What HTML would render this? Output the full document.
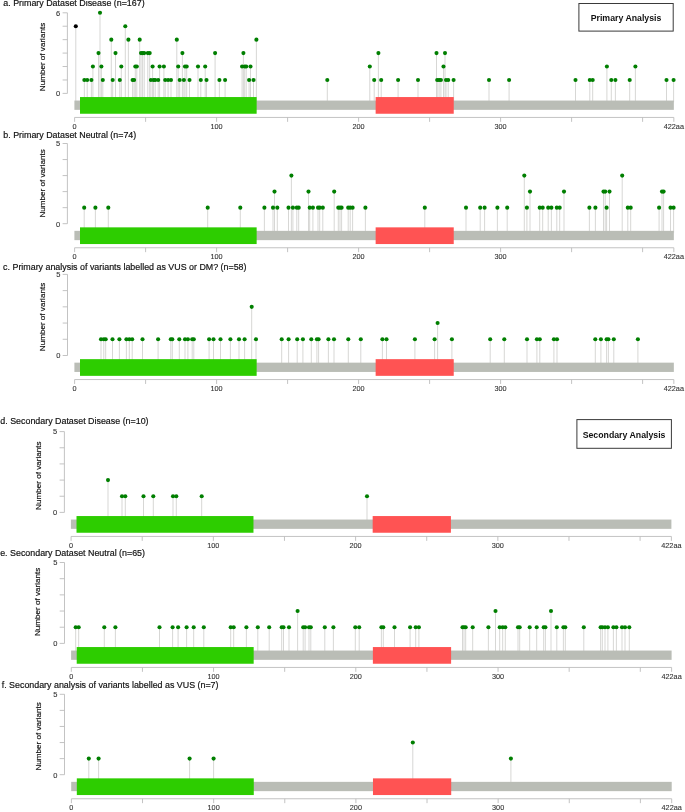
<!DOCTYPE html>
<html><head><meta charset="utf-8"><style>
html,body{margin:0;padding:0;background:#fff;}
body{width:685px;height:812px;overflow:hidden;}
svg{display:block;will-change:transform;}
text{font-family:"Liberation Sans", sans-serif;}
.t{font-size:8.9px;fill:#111;stroke:#111;stroke-width:0.18px;}
.yl{font-size:7.5px;fill:#333;stroke:#333;stroke-width:0.1px;text-anchor:end;}
.yt{font-size:8.1px;fill:#111;stroke:#111;stroke-width:0.18px;text-anchor:middle;}
.xl{font-size:7.3px;fill:#333;stroke:#333;stroke-width:0.1px;text-anchor:middle;}
.ax{stroke:#bcbcbc;stroke-width:0.9;fill:none;}
.st{stroke:#d2d2d0;stroke-width:0.9;fill:none;}
.bx{fill:none;stroke:#3a3a3a;stroke-width:1;}
.bt{font-size:8.75px;font-weight:bold;fill:#111;text-anchor:middle;}
</style></head><body>
<svg width="685" height="812" viewBox="0 0 685 812">
<text x="3.3" y="6.3" class="t">a. Primary Dataset Disease (n=167)</text>
<path d="M67.4 12.8V93.4" class="ax"/>
<path d="M62.6 93.4H67.4M62.6 79.97H67.4M62.6 66.53H67.4M62.6 53.1H67.4M62.6 39.67H67.4M62.6 26.23H67.4M62.6 12.8H67.4" class="ax"/>
<text x="60.2" y="15.6" class="yl">6</text>
<text x="60.2" y="96.2" class="yl">0</text>
<text transform="translate(44.6 57) rotate(-90)" class="yt">Number of variants</text>
<path d="M75.8 26.23V102.4M84.35 79.97V102.4M87.2 79.97V102.4M91.4 79.97V102.4M92.9 66.53V102.4M98.5 53.1V102.4M100 12.8V102.4M101.4 66.53V102.4M102.8 79.97V102.4M111.3 39.67V102.4M112.7 79.97V102.4M115.5 53.1V102.4M119.8 79.97V102.4M121.3 66.53V102.4M125.3 26.23V102.4M128.4 39.67V102.4M132.6 79.97V102.4M134.1 79.97V102.4M135.3 66.53V102.4M136.8 66.53V102.4M139.7 39.67V102.4M141 53.1V102.4M142.6 53.1V102.4M144.2 53.1V102.4M147.8 53.1V102.4M149.7 53.1V102.4M150.9 79.97V102.4M152.6 66.53V102.4M153.6 79.97V102.4M155.2 79.97V102.4M158.2 79.97V102.4M159.6 66.53V102.4M163.9 66.53V102.4M165.2 79.97V102.4M168.1 79.97V102.4M171 79.97V102.4M176.8 39.67V102.4M178.2 66.53V102.4M179.7 79.97V102.4M182.4 53.1V102.4M183.9 79.97V102.4M185 66.53V102.4M186.7 66.53V102.4M189.5 79.97V102.4M198 66.53V102.4M200.8 79.97V102.4M205.2 66.53V102.4M206.5 79.97V102.4M215.1 53.1V102.4M219.4 79.97V102.4M225.1 79.97V102.4M242.1 66.53V102.4M243.4 53.1V102.4M244.7 66.53V102.4M246.2 66.53V102.4M249.1 79.97V102.4M250.5 66.53V102.4M253.5 79.97V102.4M256.4 39.67V102.4M327.3 79.97V102.4M369.8 66.53V102.4M374.2 79.97V102.4M378.4 53.1V102.4M381.2 79.97V102.4M398.1 79.97V102.4M418 79.97V102.4M436.5 53.1V102.4M437.2 79.97V102.4M439.1 79.97V102.4M440.9 79.97V102.4M443.5 66.53V102.4M445 53.1V102.4M446 79.97V102.4M448.2 79.97V102.4M453.6 79.97V102.4M489 79.97V102.4M509.1 79.97V102.4M575.5 79.97V102.4M589.8 79.97V102.4M592.7 79.97V102.4M606.9 66.53V102.4M611.3 79.97V102.4M615.4 79.97V102.4M629.7 79.97V102.4M635.4 66.53V102.4M666.5 79.97V102.4M673.6 79.97V102.4" class="st"/>
<rect x="74.4" y="100.55" width="599.44" height="9.3" fill="#babdb6"/>
<rect x="80" y="97.05" width="176.65" height="16.7" fill="#2dcd00"/>
<rect x="375.64" y="97.05" width="78.1" height="16.7" fill="#ff5353"/>
<circle cx="75.8" cy="26.23" r="2.05" fill="#000"/>
<circle cx="84.35" cy="79.97" r="2.05" fill="#007f00"/>
<circle cx="87.2" cy="79.97" r="2.05" fill="#007f00"/>
<circle cx="91.4" cy="79.97" r="2.05" fill="#007f00"/>
<circle cx="92.9" cy="66.53" r="2.05" fill="#007f00"/>
<circle cx="98.5" cy="53.1" r="2.05" fill="#007f00"/>
<circle cx="100" cy="12.8" r="2.05" fill="#007f00"/>
<circle cx="101.4" cy="66.53" r="2.05" fill="#007f00"/>
<circle cx="102.8" cy="79.97" r="2.05" fill="#007f00"/>
<circle cx="111.3" cy="39.67" r="2.05" fill="#007f00"/>
<circle cx="112.7" cy="79.97" r="2.05" fill="#007f00"/>
<circle cx="115.5" cy="53.1" r="2.05" fill="#007f00"/>
<circle cx="119.8" cy="79.97" r="2.05" fill="#007f00"/>
<circle cx="121.3" cy="66.53" r="2.05" fill="#007f00"/>
<circle cx="125.3" cy="26.23" r="2.05" fill="#007f00"/>
<circle cx="128.4" cy="39.67" r="2.05" fill="#007f00"/>
<circle cx="132.6" cy="79.97" r="2.05" fill="#007f00"/>
<circle cx="134.1" cy="79.97" r="2.05" fill="#007f00"/>
<circle cx="135.3" cy="66.53" r="2.05" fill="#007f00"/>
<circle cx="136.8" cy="66.53" r="2.05" fill="#007f00"/>
<circle cx="139.7" cy="39.67" r="2.05" fill="#007f00"/>
<circle cx="141" cy="53.1" r="2.05" fill="#007f00"/>
<circle cx="142.6" cy="53.1" r="2.05" fill="#007f00"/>
<circle cx="144.2" cy="53.1" r="2.05" fill="#007f00"/>
<circle cx="147.8" cy="53.1" r="2.05" fill="#007f00"/>
<circle cx="149.7" cy="53.1" r="2.05" fill="#007f00"/>
<circle cx="150.9" cy="79.97" r="2.05" fill="#007f00"/>
<circle cx="152.6" cy="66.53" r="2.05" fill="#007f00"/>
<circle cx="153.6" cy="79.97" r="2.05" fill="#007f00"/>
<circle cx="155.2" cy="79.97" r="2.05" fill="#007f00"/>
<circle cx="158.2" cy="79.97" r="2.05" fill="#007f00"/>
<circle cx="159.6" cy="66.53" r="2.05" fill="#007f00"/>
<circle cx="163.9" cy="66.53" r="2.05" fill="#007f00"/>
<circle cx="165.2" cy="79.97" r="2.05" fill="#007f00"/>
<circle cx="168.1" cy="79.97" r="2.05" fill="#007f00"/>
<circle cx="171" cy="79.97" r="2.05" fill="#007f00"/>
<circle cx="176.8" cy="39.67" r="2.05" fill="#007f00"/>
<circle cx="178.2" cy="66.53" r="2.05" fill="#007f00"/>
<circle cx="179.7" cy="79.97" r="2.05" fill="#007f00"/>
<circle cx="182.4" cy="53.1" r="2.05" fill="#007f00"/>
<circle cx="183.9" cy="79.97" r="2.05" fill="#007f00"/>
<circle cx="185" cy="66.53" r="2.05" fill="#007f00"/>
<circle cx="186.7" cy="66.53" r="2.05" fill="#007f00"/>
<circle cx="189.5" cy="79.97" r="2.05" fill="#007f00"/>
<circle cx="198" cy="66.53" r="2.05" fill="#007f00"/>
<circle cx="200.8" cy="79.97" r="2.05" fill="#007f00"/>
<circle cx="205.2" cy="66.53" r="2.05" fill="#007f00"/>
<circle cx="206.5" cy="79.97" r="2.05" fill="#007f00"/>
<circle cx="215.1" cy="53.1" r="2.05" fill="#007f00"/>
<circle cx="219.4" cy="79.97" r="2.05" fill="#007f00"/>
<circle cx="225.1" cy="79.97" r="2.05" fill="#007f00"/>
<circle cx="242.1" cy="66.53" r="2.05" fill="#007f00"/>
<circle cx="243.4" cy="53.1" r="2.05" fill="#007f00"/>
<circle cx="244.7" cy="66.53" r="2.05" fill="#007f00"/>
<circle cx="246.2" cy="66.53" r="2.05" fill="#007f00"/>
<circle cx="249.1" cy="79.97" r="2.05" fill="#007f00"/>
<circle cx="250.5" cy="66.53" r="2.05" fill="#007f00"/>
<circle cx="253.5" cy="79.97" r="2.05" fill="#007f00"/>
<circle cx="256.4" cy="39.67" r="2.05" fill="#007f00"/>
<circle cx="327.3" cy="79.97" r="2.05" fill="#007f00"/>
<circle cx="369.8" cy="66.53" r="2.05" fill="#007f00"/>
<circle cx="374.2" cy="79.97" r="2.05" fill="#007f00"/>
<circle cx="378.4" cy="53.1" r="2.05" fill="#007f00"/>
<circle cx="381.2" cy="79.97" r="2.05" fill="#007f00"/>
<circle cx="398.1" cy="79.97" r="2.05" fill="#007f00"/>
<circle cx="418" cy="79.97" r="2.05" fill="#007f00"/>
<circle cx="436.5" cy="53.1" r="2.05" fill="#007f00"/>
<circle cx="437.2" cy="79.97" r="2.05" fill="#007f00"/>
<circle cx="439.1" cy="79.97" r="2.05" fill="#007f00"/>
<circle cx="440.9" cy="79.97" r="2.05" fill="#007f00"/>
<circle cx="443.5" cy="66.53" r="2.05" fill="#007f00"/>
<circle cx="445" cy="53.1" r="2.05" fill="#007f00"/>
<circle cx="446" cy="79.97" r="2.05" fill="#007f00"/>
<circle cx="448.2" cy="79.97" r="2.05" fill="#007f00"/>
<circle cx="453.6" cy="79.97" r="2.05" fill="#007f00"/>
<circle cx="489" cy="79.97" r="2.05" fill="#007f00"/>
<circle cx="509.1" cy="79.97" r="2.05" fill="#007f00"/>
<circle cx="575.5" cy="79.97" r="2.05" fill="#007f00"/>
<circle cx="589.8" cy="79.97" r="2.05" fill="#007f00"/>
<circle cx="592.7" cy="79.97" r="2.05" fill="#007f00"/>
<circle cx="606.9" cy="66.53" r="2.05" fill="#007f00"/>
<circle cx="611.3" cy="79.97" r="2.05" fill="#007f00"/>
<circle cx="615.4" cy="79.97" r="2.05" fill="#007f00"/>
<circle cx="629.7" cy="79.97" r="2.05" fill="#007f00"/>
<circle cx="635.4" cy="66.53" r="2.05" fill="#007f00"/>
<circle cx="666.5" cy="79.97" r="2.05" fill="#007f00"/>
<circle cx="673.6" cy="79.97" r="2.05" fill="#007f00"/>
<path d="M74.6 117.45H673.84" class="ax"/>
<path d="M74.6 117.45v4.4M145.6 117.45v4.4M216.6 117.45v4.4M287.6 117.45v4.4M358.6 117.45v4.4M429.6 117.45v4.4M500.6 117.45v4.4M571.6 117.45v4.4M642.6 117.45v4.4M673.84 117.45v4.4" class="ax"/>
<text x="74.6" y="128.9" class="xl">0</text>
<text x="216.6" y="128.9" class="xl">100</text>
<text x="358.6" y="128.9" class="xl">200</text>
<text x="500.6" y="128.9" class="xl">300</text>
<text x="673.84" y="128.9" class="xl">422aa</text>
<text x="3.3" y="137.8" class="t">b. Primary Dataset Neutral (n=74)</text>
<path d="M67.4 143.5V223.7" class="ax"/>
<path d="M62.6 223.7H67.4M62.6 207.66H67.4M62.6 191.62H67.4M62.6 175.58H67.4M62.6 159.54H67.4M62.6 143.5H67.4" class="ax"/>
<text x="60.2" y="146.3" class="yl">5</text>
<text x="60.2" y="226.5" class="yl">0</text>
<text transform="translate(44.6 183.3) rotate(-90)" class="yt">Number of variants</text>
<path d="M84.2 207.66V232.7M95.4 207.66V232.7M108.3 207.66V232.7M207.7 207.66V232.7M240.3 207.66V232.7M264.4 207.66V232.7M273 207.66V232.7M274.5 191.62V232.7M277.3 207.66V232.7M288.5 207.66V232.7M291.4 175.58V232.7M292.9 207.66V232.7M296.8 207.66V232.7M298.7 207.66V232.7M308.5 191.62V232.7M309.7 207.66V232.7M312.9 207.66V232.7M318 207.66V232.7M319.7 207.66V232.7M322.8 207.66V232.7M334.2 191.62V232.7M338.3 207.66V232.7M340 207.66V232.7M341.6 207.66V232.7M348.2 207.66V232.7M350.2 207.66V232.7M352.6 207.66V232.7M365.4 207.66V232.7M424.8 207.66V232.7M466 207.66V232.7M480.2 207.66V232.7M484.6 207.66V232.7M497.4 207.66V232.7M507.2 207.66V232.7M524.3 175.58V232.7M526.9 207.66V232.7M530 191.62V232.7M539.7 207.66V232.7M542.7 207.66V232.7M548.2 207.66V232.7M551.4 207.66V232.7M556.8 207.66V232.7M559.7 207.66V232.7M564 191.62V232.7M589.4 207.66V232.7M595.4 207.66V232.7M603.5 191.62V232.7M605.2 191.62V232.7M606.6 207.66V232.7M609.5 191.62V232.7M622.2 175.58V232.7M627.8 207.66V232.7M630.7 207.66V232.7M659.1 207.66V232.7M662 191.62V232.7M663.6 191.62V232.7M670.5 207.66V232.7M673.6 207.66V232.7" class="st"/>
<rect x="74.4" y="230.85" width="599.44" height="9.3" fill="#babdb6"/>
<rect x="80" y="227.35" width="176.65" height="16.7" fill="#2dcd00"/>
<rect x="375.64" y="227.35" width="78.1" height="16.7" fill="#ff5353"/>
<circle cx="84.2" cy="207.66" r="2.05" fill="#007f00"/>
<circle cx="95.4" cy="207.66" r="2.05" fill="#007f00"/>
<circle cx="108.3" cy="207.66" r="2.05" fill="#007f00"/>
<circle cx="207.7" cy="207.66" r="2.05" fill="#007f00"/>
<circle cx="240.3" cy="207.66" r="2.05" fill="#007f00"/>
<circle cx="264.4" cy="207.66" r="2.05" fill="#007f00"/>
<circle cx="273" cy="207.66" r="2.05" fill="#007f00"/>
<circle cx="274.5" cy="191.62" r="2.05" fill="#007f00"/>
<circle cx="277.3" cy="207.66" r="2.05" fill="#007f00"/>
<circle cx="288.5" cy="207.66" r="2.05" fill="#007f00"/>
<circle cx="291.4" cy="175.58" r="2.05" fill="#007f00"/>
<circle cx="292.9" cy="207.66" r="2.05" fill="#007f00"/>
<circle cx="296.8" cy="207.66" r="2.05" fill="#007f00"/>
<circle cx="298.7" cy="207.66" r="2.05" fill="#007f00"/>
<circle cx="308.5" cy="191.62" r="2.05" fill="#007f00"/>
<circle cx="309.7" cy="207.66" r="2.05" fill="#007f00"/>
<circle cx="312.9" cy="207.66" r="2.05" fill="#007f00"/>
<circle cx="318" cy="207.66" r="2.05" fill="#007f00"/>
<circle cx="319.7" cy="207.66" r="2.05" fill="#007f00"/>
<circle cx="322.8" cy="207.66" r="2.05" fill="#007f00"/>
<circle cx="334.2" cy="191.62" r="2.05" fill="#007f00"/>
<circle cx="338.3" cy="207.66" r="2.05" fill="#007f00"/>
<circle cx="340" cy="207.66" r="2.05" fill="#007f00"/>
<circle cx="341.6" cy="207.66" r="2.05" fill="#007f00"/>
<circle cx="348.2" cy="207.66" r="2.05" fill="#007f00"/>
<circle cx="350.2" cy="207.66" r="2.05" fill="#007f00"/>
<circle cx="352.6" cy="207.66" r="2.05" fill="#007f00"/>
<circle cx="365.4" cy="207.66" r="2.05" fill="#007f00"/>
<circle cx="424.8" cy="207.66" r="2.05" fill="#007f00"/>
<circle cx="466" cy="207.66" r="2.05" fill="#007f00"/>
<circle cx="480.2" cy="207.66" r="2.05" fill="#007f00"/>
<circle cx="484.6" cy="207.66" r="2.05" fill="#007f00"/>
<circle cx="497.4" cy="207.66" r="2.05" fill="#007f00"/>
<circle cx="507.2" cy="207.66" r="2.05" fill="#007f00"/>
<circle cx="524.3" cy="175.58" r="2.05" fill="#007f00"/>
<circle cx="526.9" cy="207.66" r="2.05" fill="#007f00"/>
<circle cx="530" cy="191.62" r="2.05" fill="#007f00"/>
<circle cx="539.7" cy="207.66" r="2.05" fill="#007f00"/>
<circle cx="542.7" cy="207.66" r="2.05" fill="#007f00"/>
<circle cx="548.2" cy="207.66" r="2.05" fill="#007f00"/>
<circle cx="551.4" cy="207.66" r="2.05" fill="#007f00"/>
<circle cx="556.8" cy="207.66" r="2.05" fill="#007f00"/>
<circle cx="559.7" cy="207.66" r="2.05" fill="#007f00"/>
<circle cx="564" cy="191.62" r="2.05" fill="#007f00"/>
<circle cx="589.4" cy="207.66" r="2.05" fill="#007f00"/>
<circle cx="595.4" cy="207.66" r="2.05" fill="#007f00"/>
<circle cx="603.5" cy="191.62" r="2.05" fill="#007f00"/>
<circle cx="605.2" cy="191.62" r="2.05" fill="#007f00"/>
<circle cx="606.6" cy="207.66" r="2.05" fill="#007f00"/>
<circle cx="609.5" cy="191.62" r="2.05" fill="#007f00"/>
<circle cx="622.2" cy="175.58" r="2.05" fill="#007f00"/>
<circle cx="627.8" cy="207.66" r="2.05" fill="#007f00"/>
<circle cx="630.7" cy="207.66" r="2.05" fill="#007f00"/>
<circle cx="659.1" cy="207.66" r="2.05" fill="#007f00"/>
<circle cx="662" cy="191.62" r="2.05" fill="#007f00"/>
<circle cx="663.6" cy="191.62" r="2.05" fill="#007f00"/>
<circle cx="670.5" cy="207.66" r="2.05" fill="#007f00"/>
<circle cx="673.6" cy="207.66" r="2.05" fill="#007f00"/>
<path d="M74.6 247.75H673.84" class="ax"/>
<path d="M74.6 247.75v4.4M145.6 247.75v4.4M216.6 247.75v4.4M287.6 247.75v4.4M358.6 247.75v4.4M429.6 247.75v4.4M500.6 247.75v4.4M571.6 247.75v4.4M642.6 247.75v4.4M673.84 247.75v4.4" class="ax"/>
<text x="74.6" y="259.2" class="xl">0</text>
<text x="216.6" y="259.2" class="xl">100</text>
<text x="358.6" y="259.2" class="xl">200</text>
<text x="500.6" y="259.2" class="xl">300</text>
<text x="673.84" y="259.2" class="xl">422aa</text>
<text x="3.1" y="269.6" class="t">c. Primary analysis of variants labelled as VUS or DM? (n=58)</text>
<path d="M67.5 274.4V355.5" class="ax"/>
<path d="M62.7 355.5H67.5M62.7 339.28H67.5M62.7 323.06H67.5M62.7 306.84H67.5M62.7 290.62H67.5M62.7 274.4H67.5" class="ax"/>
<text x="60.3" y="277.2" class="yl">5</text>
<text x="60.3" y="358.3" class="yl">0</text>
<text transform="translate(44.6 317) rotate(-90)" class="yt">Number of variants</text>
<path d="M101 339.28V364.5M103.8 339.28V364.5M105.7 339.28V364.5M112.5 339.28V364.5M119.4 339.28V364.5M126.4 339.28V364.5M129.3 339.28V364.5M132.2 339.28V364.5M142.5 339.28V364.5M158.1 339.28V364.5M170.8 339.28V364.5M172.3 339.28V364.5M179.3 339.28V364.5M185 339.28V364.5M187.9 339.28V364.5M192.2 339.28V364.5M193.8 339.28V364.5M209.1 339.28V364.5M213.5 339.28V364.5M220.5 339.28V364.5M230.4 339.28V364.5M239 339.28V364.5M244.6 339.28V364.5M251.7 306.84V364.5M256 339.28V364.5M281.7 339.28V364.5M288.6 339.28V364.5M297.2 339.28V364.5M302.9 339.28V364.5M311.3 339.28V364.5M316.9 339.28V364.5M318.6 339.28V364.5M328.4 339.28V364.5M334 339.28V364.5M348.3 339.28V364.5M360.8 339.28V364.5M382.4 339.28V364.5M386.5 339.28V364.5M414.9 339.28V364.5M434.6 339.28V364.5M437.6 323.06V364.5M451.9 339.28V364.5M490.2 339.28V364.5M504.3 339.28V364.5M527 339.28V364.5M536.9 339.28V364.5M539.8 339.28V364.5M553.9 339.28V364.5M557 339.28V364.5M595.3 339.28V364.5M600.9 339.28V364.5M606.6 339.28V364.5M608.4 339.28V364.5M613.8 339.28V364.5M637.9 339.28V364.5" class="st"/>
<rect x="74.4" y="362.65" width="599.44" height="9.3" fill="#babdb6"/>
<rect x="80" y="359.15" width="176.65" height="16.7" fill="#2dcd00"/>
<rect x="375.64" y="359.15" width="78.1" height="16.7" fill="#ff5353"/>
<circle cx="101" cy="339.28" r="2.05" fill="#007f00"/>
<circle cx="103.8" cy="339.28" r="2.05" fill="#007f00"/>
<circle cx="105.7" cy="339.28" r="2.05" fill="#007f00"/>
<circle cx="112.5" cy="339.28" r="2.05" fill="#007f00"/>
<circle cx="119.4" cy="339.28" r="2.05" fill="#007f00"/>
<circle cx="126.4" cy="339.28" r="2.05" fill="#007f00"/>
<circle cx="129.3" cy="339.28" r="2.05" fill="#007f00"/>
<circle cx="132.2" cy="339.28" r="2.05" fill="#007f00"/>
<circle cx="142.5" cy="339.28" r="2.05" fill="#007f00"/>
<circle cx="158.1" cy="339.28" r="2.05" fill="#007f00"/>
<circle cx="170.8" cy="339.28" r="2.05" fill="#007f00"/>
<circle cx="172.3" cy="339.28" r="2.05" fill="#007f00"/>
<circle cx="179.3" cy="339.28" r="2.05" fill="#007f00"/>
<circle cx="185" cy="339.28" r="2.05" fill="#007f00"/>
<circle cx="187.9" cy="339.28" r="2.05" fill="#007f00"/>
<circle cx="192.2" cy="339.28" r="2.05" fill="#007f00"/>
<circle cx="193.8" cy="339.28" r="2.05" fill="#007f00"/>
<circle cx="209.1" cy="339.28" r="2.05" fill="#007f00"/>
<circle cx="213.5" cy="339.28" r="2.05" fill="#007f00"/>
<circle cx="220.5" cy="339.28" r="2.05" fill="#007f00"/>
<circle cx="230.4" cy="339.28" r="2.05" fill="#007f00"/>
<circle cx="239" cy="339.28" r="2.05" fill="#007f00"/>
<circle cx="244.6" cy="339.28" r="2.05" fill="#007f00"/>
<circle cx="251.7" cy="306.84" r="2.05" fill="#007f00"/>
<circle cx="256" cy="339.28" r="2.05" fill="#007f00"/>
<circle cx="281.7" cy="339.28" r="2.05" fill="#007f00"/>
<circle cx="288.6" cy="339.28" r="2.05" fill="#007f00"/>
<circle cx="297.2" cy="339.28" r="2.05" fill="#007f00"/>
<circle cx="302.9" cy="339.28" r="2.05" fill="#007f00"/>
<circle cx="311.3" cy="339.28" r="2.05" fill="#007f00"/>
<circle cx="316.9" cy="339.28" r="2.05" fill="#007f00"/>
<circle cx="318.6" cy="339.28" r="2.05" fill="#007f00"/>
<circle cx="328.4" cy="339.28" r="2.05" fill="#007f00"/>
<circle cx="334" cy="339.28" r="2.05" fill="#007f00"/>
<circle cx="348.3" cy="339.28" r="2.05" fill="#007f00"/>
<circle cx="360.8" cy="339.28" r="2.05" fill="#007f00"/>
<circle cx="382.4" cy="339.28" r="2.05" fill="#007f00"/>
<circle cx="386.5" cy="339.28" r="2.05" fill="#007f00"/>
<circle cx="414.9" cy="339.28" r="2.05" fill="#007f00"/>
<circle cx="434.6" cy="339.28" r="2.05" fill="#007f00"/>
<circle cx="437.6" cy="323.06" r="2.05" fill="#007f00"/>
<circle cx="451.9" cy="339.28" r="2.05" fill="#007f00"/>
<circle cx="490.2" cy="339.28" r="2.05" fill="#007f00"/>
<circle cx="504.3" cy="339.28" r="2.05" fill="#007f00"/>
<circle cx="527" cy="339.28" r="2.05" fill="#007f00"/>
<circle cx="536.9" cy="339.28" r="2.05" fill="#007f00"/>
<circle cx="539.8" cy="339.28" r="2.05" fill="#007f00"/>
<circle cx="553.9" cy="339.28" r="2.05" fill="#007f00"/>
<circle cx="557" cy="339.28" r="2.05" fill="#007f00"/>
<circle cx="595.3" cy="339.28" r="2.05" fill="#007f00"/>
<circle cx="600.9" cy="339.28" r="2.05" fill="#007f00"/>
<circle cx="606.6" cy="339.28" r="2.05" fill="#007f00"/>
<circle cx="608.4" cy="339.28" r="2.05" fill="#007f00"/>
<circle cx="613.8" cy="339.28" r="2.05" fill="#007f00"/>
<circle cx="637.9" cy="339.28" r="2.05" fill="#007f00"/>
<path d="M74.6 379.55H673.84" class="ax"/>
<path d="M74.6 379.55v4.4M145.6 379.55v4.4M216.6 379.55v4.4M287.6 379.55v4.4M358.6 379.55v4.4M429.6 379.55v4.4M500.6 379.55v4.4M571.6 379.55v4.4M642.6 379.55v4.4M673.84 379.55v4.4" class="ax"/>
<text x="74.6" y="391" class="xl">0</text>
<text x="216.6" y="391" class="xl">100</text>
<text x="358.6" y="391" class="xl">200</text>
<text x="500.6" y="391" class="xl">300</text>
<text x="673.84" y="391" class="xl">422aa</text>
<text x="0.3" y="423.8" class="t">d. Secondary Dataset Disease (n=10)</text>
<path d="M64.4 431.6V512.4" class="ax"/>
<path d="M59.6 512.4H64.4M59.6 496.24H64.4M59.6 480.08H64.4M59.6 463.92H64.4M59.6 447.76H64.4M59.6 431.6H64.4" class="ax"/>
<text x="57.2" y="434.4" class="yl">5</text>
<text x="57.2" y="515.2" class="yl">0</text>
<text transform="translate(40.6 475.7) rotate(-90)" class="yt">Number of variants</text>
<path d="M108 480.08V521.4M122 496.24V521.4M125.3 496.24V521.4M143.5 496.24V521.4M153.3 496.24V521.4M173 496.24V521.4M176.3 496.24V521.4M201.7 496.24V521.4M367 496.24V521.4" class="st"/>
<rect x="70.9" y="519.55" width="600.5" height="9.3" fill="#babdb6"/>
<rect x="76.51" y="516.05" width="176.96" height="16.7" fill="#2dcd00"/>
<rect x="372.67" y="516.05" width="78.24" height="16.7" fill="#ff5353"/>
<circle cx="108" cy="480.08" r="2.05" fill="#007f00"/>
<circle cx="122" cy="496.24" r="2.05" fill="#007f00"/>
<circle cx="125.3" cy="496.24" r="2.05" fill="#007f00"/>
<circle cx="143.5" cy="496.24" r="2.05" fill="#007f00"/>
<circle cx="153.3" cy="496.24" r="2.05" fill="#007f00"/>
<circle cx="173" cy="496.24" r="2.05" fill="#007f00"/>
<circle cx="176.3" cy="496.24" r="2.05" fill="#007f00"/>
<circle cx="201.7" cy="496.24" r="2.05" fill="#007f00"/>
<circle cx="367" cy="496.24" r="2.05" fill="#007f00"/>
<path d="M71.1 536.45H671.4" class="ax"/>
<path d="M71.1 536.45v4.4M142.22 536.45v4.4M213.35 536.45v4.4M284.48 536.45v4.4M355.6 536.45v4.4M426.73 536.45v4.4M497.85 536.45v4.4M568.98 536.45v4.4M640.1 536.45v4.4M671.4 536.45v4.4" class="ax"/>
<text x="71.1" y="547.9" class="xl">0</text>
<text x="213.35" y="547.9" class="xl">100</text>
<text x="355.6" y="547.9" class="xl">200</text>
<text x="497.85" y="547.9" class="xl">300</text>
<text x="671.4" y="547.9" class="xl">422aa</text>
<text x="0.2" y="556.1" class="t">e. Secondary Dataset Neutral (n=65)</text>
<path d="M64.5 562.5V643.4" class="ax"/>
<path d="M59.7 643.4H64.5M59.7 627.22H64.5M59.7 611.04H64.5M59.7 594.86H64.5M59.7 578.68H64.5M59.7 562.5H64.5" class="ax"/>
<text x="57.3" y="565.3" class="yl">5</text>
<text x="57.3" y="646.2" class="yl">0</text>
<text transform="translate(40.4 601.8) rotate(-90)" class="yt">Number of variants</text>
<path d="M75.7 627.22V652.4M78.7 627.22V652.4M104.3 627.22V652.4M115.4 627.22V652.4M159.5 627.22V652.4M172.6 627.22V652.4M178.1 627.22V652.4M186.6 627.22V652.4M193.7 627.22V652.4M203.8 627.22V652.4M230.7 627.22V652.4M233.7 627.22V652.4M246.4 627.22V652.4M257.8 627.22V652.4M269.2 627.22V652.4M281.7 627.22V652.4M283.5 627.22V652.4M289 627.22V652.4M297.6 611.04V652.4M303.2 627.22V652.4M305.1 627.22V652.4M309 627.22V652.4M310.8 627.22V652.4M324.8 627.22V652.4M333.4 627.22V652.4M355.3 627.22V652.4M359.2 627.22V652.4M381.4 627.22V652.4M383.3 627.22V652.4M394.5 627.22V652.4M410.1 627.22V652.4M415.7 627.22V652.4M418.9 627.22V652.4M462.5 627.22V652.4M464 627.22V652.4M465.7 627.22V652.4M472.7 627.22V652.4M488.4 627.22V652.4M495.5 611.04V652.4M499.7 627.22V652.4M502.7 627.22V652.4M505.3 627.22V652.4M518 627.22V652.4M519.7 627.22V652.4M529.7 627.22V652.4M536.7 627.22V652.4M543.7 627.22V652.4M545.4 627.22V652.4M551 611.04V652.4M556.8 627.22V652.4M563.4 627.22V652.4M565.3 627.22V652.4M583.8 627.22V652.4M600.6 627.22V652.4M602.3 627.22V652.4M605 627.22V652.4M607.9 627.22V652.4M613.4 627.22V652.4M616.4 627.22V652.4M622 627.22V652.4M625 627.22V652.4M629.3 627.22V652.4" class="st"/>
<rect x="71.1" y="650.55" width="600.5" height="9.3" fill="#babdb6"/>
<rect x="76.71" y="647.05" width="176.96" height="16.7" fill="#2dcd00"/>
<rect x="372.87" y="647.05" width="78.24" height="16.7" fill="#ff5353"/>
<circle cx="75.7" cy="627.22" r="2.05" fill="#007f00"/>
<circle cx="78.7" cy="627.22" r="2.05" fill="#007f00"/>
<circle cx="104.3" cy="627.22" r="2.05" fill="#007f00"/>
<circle cx="115.4" cy="627.22" r="2.05" fill="#007f00"/>
<circle cx="159.5" cy="627.22" r="2.05" fill="#007f00"/>
<circle cx="172.6" cy="627.22" r="2.05" fill="#007f00"/>
<circle cx="178.1" cy="627.22" r="2.05" fill="#007f00"/>
<circle cx="186.6" cy="627.22" r="2.05" fill="#007f00"/>
<circle cx="193.7" cy="627.22" r="2.05" fill="#007f00"/>
<circle cx="203.8" cy="627.22" r="2.05" fill="#007f00"/>
<circle cx="230.7" cy="627.22" r="2.05" fill="#007f00"/>
<circle cx="233.7" cy="627.22" r="2.05" fill="#007f00"/>
<circle cx="246.4" cy="627.22" r="2.05" fill="#007f00"/>
<circle cx="257.8" cy="627.22" r="2.05" fill="#007f00"/>
<circle cx="269.2" cy="627.22" r="2.05" fill="#007f00"/>
<circle cx="281.7" cy="627.22" r="2.05" fill="#007f00"/>
<circle cx="283.5" cy="627.22" r="2.05" fill="#007f00"/>
<circle cx="289" cy="627.22" r="2.05" fill="#007f00"/>
<circle cx="297.6" cy="611.04" r="2.05" fill="#007f00"/>
<circle cx="303.2" cy="627.22" r="2.05" fill="#007f00"/>
<circle cx="305.1" cy="627.22" r="2.05" fill="#007f00"/>
<circle cx="309" cy="627.22" r="2.05" fill="#007f00"/>
<circle cx="310.8" cy="627.22" r="2.05" fill="#007f00"/>
<circle cx="324.8" cy="627.22" r="2.05" fill="#007f00"/>
<circle cx="333.4" cy="627.22" r="2.05" fill="#007f00"/>
<circle cx="355.3" cy="627.22" r="2.05" fill="#007f00"/>
<circle cx="359.2" cy="627.22" r="2.05" fill="#007f00"/>
<circle cx="381.4" cy="627.22" r="2.05" fill="#007f00"/>
<circle cx="383.3" cy="627.22" r="2.05" fill="#007f00"/>
<circle cx="394.5" cy="627.22" r="2.05" fill="#007f00"/>
<circle cx="410.1" cy="627.22" r="2.05" fill="#007f00"/>
<circle cx="415.7" cy="627.22" r="2.05" fill="#007f00"/>
<circle cx="418.9" cy="627.22" r="2.05" fill="#007f00"/>
<circle cx="462.5" cy="627.22" r="2.05" fill="#007f00"/>
<circle cx="464" cy="627.22" r="2.05" fill="#007f00"/>
<circle cx="465.7" cy="627.22" r="2.05" fill="#007f00"/>
<circle cx="472.7" cy="627.22" r="2.05" fill="#007f00"/>
<circle cx="488.4" cy="627.22" r="2.05" fill="#007f00"/>
<circle cx="495.5" cy="611.04" r="2.05" fill="#007f00"/>
<circle cx="499.7" cy="627.22" r="2.05" fill="#007f00"/>
<circle cx="502.7" cy="627.22" r="2.05" fill="#007f00"/>
<circle cx="505.3" cy="627.22" r="2.05" fill="#007f00"/>
<circle cx="518" cy="627.22" r="2.05" fill="#007f00"/>
<circle cx="519.7" cy="627.22" r="2.05" fill="#007f00"/>
<circle cx="529.7" cy="627.22" r="2.05" fill="#007f00"/>
<circle cx="536.7" cy="627.22" r="2.05" fill="#007f00"/>
<circle cx="543.7" cy="627.22" r="2.05" fill="#007f00"/>
<circle cx="545.4" cy="627.22" r="2.05" fill="#007f00"/>
<circle cx="551" cy="611.04" r="2.05" fill="#007f00"/>
<circle cx="556.8" cy="627.22" r="2.05" fill="#007f00"/>
<circle cx="563.4" cy="627.22" r="2.05" fill="#007f00"/>
<circle cx="565.3" cy="627.22" r="2.05" fill="#007f00"/>
<circle cx="583.8" cy="627.22" r="2.05" fill="#007f00"/>
<circle cx="600.6" cy="627.22" r="2.05" fill="#007f00"/>
<circle cx="602.3" cy="627.22" r="2.05" fill="#007f00"/>
<circle cx="605" cy="627.22" r="2.05" fill="#007f00"/>
<circle cx="607.9" cy="627.22" r="2.05" fill="#007f00"/>
<circle cx="613.4" cy="627.22" r="2.05" fill="#007f00"/>
<circle cx="616.4" cy="627.22" r="2.05" fill="#007f00"/>
<circle cx="622" cy="627.22" r="2.05" fill="#007f00"/>
<circle cx="625" cy="627.22" r="2.05" fill="#007f00"/>
<circle cx="629.3" cy="627.22" r="2.05" fill="#007f00"/>
<path d="M71.3 667.45H671.6" class="ax"/>
<path d="M71.3 667.45v4.4M142.43 667.45v4.4M213.55 667.45v4.4M284.68 667.45v4.4M355.8 667.45v4.4M426.93 667.45v4.4M498.05 667.45v4.4M569.18 667.45v4.4M640.3 667.45v4.4M671.6 667.45v4.4" class="ax"/>
<text x="71.3" y="678.9" class="xl">0</text>
<text x="213.55" y="678.9" class="xl">100</text>
<text x="355.8" y="678.9" class="xl">200</text>
<text x="498.05" y="678.9" class="xl">300</text>
<text x="671.6" y="678.9" class="xl">422aa</text>
<text x="1.7" y="687.7" class="t">f. Secondary analysis of variants labelled as VUS (n=7)</text>
<path d="M64.5 694.3V774.7" class="ax"/>
<path d="M59.7 774.7H64.5M59.7 758.62H64.5M59.7 742.54H64.5M59.7 726.46H64.5M59.7 710.38H64.5M59.7 694.3H64.5" class="ax"/>
<text x="57.3" y="697.1" class="yl">5</text>
<text x="57.3" y="777.5" class="yl">0</text>
<text transform="translate(40.7 736.3) rotate(-90)" class="yt">Number of variants</text>
<path d="M88.8 758.62V783.7M98.6 758.62V783.7M189.6 758.62V783.7M213.6 758.62V783.7M412.8 742.54V783.7M510.9 758.62V783.7" class="st"/>
<rect x="71.2" y="781.85" width="600.5" height="9.3" fill="#babdb6"/>
<rect x="76.81" y="778.35" width="176.96" height="16.7" fill="#2dcd00"/>
<rect x="372.97" y="778.35" width="78.24" height="16.7" fill="#ff5353"/>
<circle cx="88.8" cy="758.62" r="2.05" fill="#007f00"/>
<circle cx="98.6" cy="758.62" r="2.05" fill="#007f00"/>
<circle cx="189.6" cy="758.62" r="2.05" fill="#007f00"/>
<circle cx="213.6" cy="758.62" r="2.05" fill="#007f00"/>
<circle cx="412.8" cy="742.54" r="2.05" fill="#007f00"/>
<circle cx="510.9" cy="758.62" r="2.05" fill="#007f00"/>
<path d="M71.4 798.75H671.7" class="ax"/>
<path d="M71.4 798.75v4.4M142.53 798.75v4.4M213.65 798.75v4.4M284.78 798.75v4.4M355.9 798.75v4.4M427.02 798.75v4.4M498.15 798.75v4.4M569.28 798.75v4.4M640.4 798.75v4.4M671.7 798.75v4.4" class="ax"/>
<text x="71.4" y="810.2" class="xl">0</text>
<text x="213.65" y="810.2" class="xl">100</text>
<text x="355.9" y="810.2" class="xl">200</text>
<text x="498.15" y="810.2" class="xl">300</text>
<text x="671.7" y="810.2" class="xl">422aa</text>
<rect x="578.9" y="3.5" width="94.3" height="27.6" class="bx"/>
<text x="626.05" y="21.3" class="bt">Primary Analysis</text>
<rect x="576.9" y="419.6" width="94.5" height="28.7" class="bx"/>
<text x="624.05" y="437.7" class="bt">Secondary Analysis</text>
</svg>
</body></html>
